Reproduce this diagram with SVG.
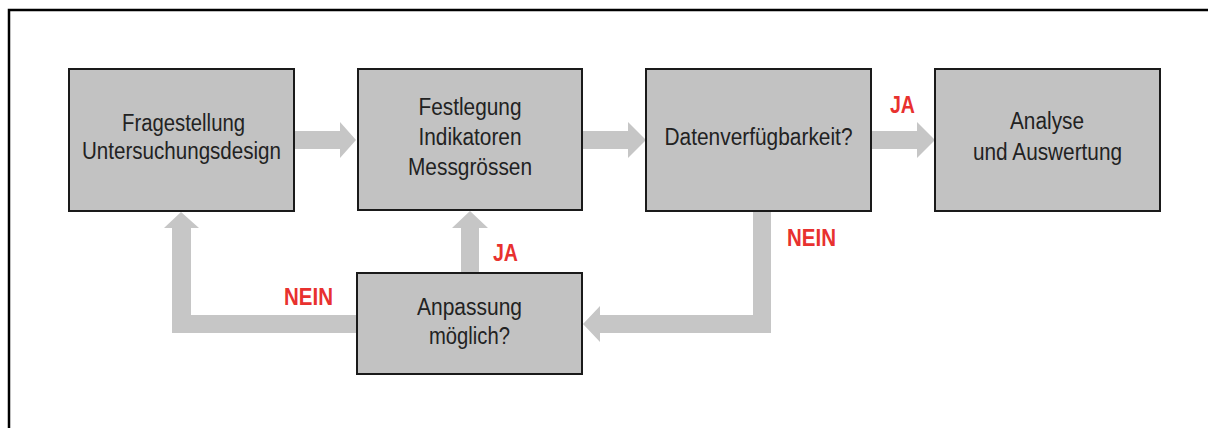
<svg xmlns="http://www.w3.org/2000/svg" width="1208" height="428" viewBox="0 0 1208 428">
  <style>
    .box { fill: #c2c2c2; stroke: #1a1a1a; stroke-width: 2; }
    .txt { font-family: "Liberation Sans", Arial, sans-serif; font-size: 23px; fill: #222; text-anchor: middle; }
    .lbl { font-family: "Liberation Sans", Arial, sans-serif; font-size: 23px; font-weight: bold; fill: #e8312f; text-anchor: middle; }
    .arr { fill: #c6c6c6; stroke: none; }
  </style>
  <rect x="0" y="0" width="1208" height="428" fill="#fff"/>
  <rect x="9" y="10" width="1220" height="440" fill="none" stroke="#000" stroke-width="2.5"/>

  <g id="connectors">
    <polygon class="arr" points="294,131 340,131 340,122 356,140 340,158 340,149 294,149"/>
    <polygon class="arr" points="582,131 628,131 628,122 646,140 628,158 628,149 582,149"/>
    <polygon class="arr" points="871,131 917,131 917,122 935,140 917,158 917,149 871,149"/>
    <polygon class="arr" points="753,211 771,211 771,333 600,333 600,342 583,324 600,306 600,315 753,315"/>
    <polygon class="arr" points="461,273 461,228 452,228 470,211 488,228 479,228 479,273"/>
    <polygon class="arr" points="357,315 191,315 191,228 199,228 181,212 164,228 172,228 172,333 357,333"/>
    <text class="lbl" x="902.5" y="113" textLength="25" lengthAdjust="spacingAndGlyphs">JA</text>
    <text class="lbl" x="811.5" y="246" textLength="49" lengthAdjust="spacingAndGlyphs">NEIN</text>
    <text class="lbl" x="505.5" y="261" textLength="25" lengthAdjust="spacingAndGlyphs">JA</text>
    <text class="lbl" x="308.5" y="305" textLength="49" lengthAdjust="spacingAndGlyphs">NEIN</text>
  </g>

  <g id="node-fragestellung">
    <rect class="box" x="69" y="69" width="225" height="142"/>
    <text class="txt" x="183.5" y="131" textLength="123" lengthAdjust="spacingAndGlyphs">Fragestellung</text>
    <text class="txt" x="181.5" y="159" textLength="199" lengthAdjust="spacingAndGlyphs">Untersuchungsdesign</text>
  </g>
  <g id="node-festlegung">
    <rect class="box" x="358" y="69" width="224" height="141"/>
    <text class="txt" x="470" y="115" textLength="103" lengthAdjust="spacingAndGlyphs">Festlegung</text>
    <text class="txt" x="470" y="145" textLength="103" lengthAdjust="spacingAndGlyphs">Indikatoren</text>
    <text class="txt" x="470" y="175" textLength="124" lengthAdjust="spacingAndGlyphs">Messgrössen</text>
  </g>
  <g id="node-daten">
    <rect class="box" x="646" y="69" width="225" height="142"/>
    <text class="txt" x="758.5" y="145" textLength="188" lengthAdjust="spacingAndGlyphs">Datenverfügbarkeit?</text>
  </g>
  <g id="node-analyse">
    <rect class="box" x="935" y="69" width="225" height="142"/>
    <text class="txt" x="1047" y="129" textLength="74" lengthAdjust="spacingAndGlyphs">Analyse</text>
    <text class="txt" x="1047.5" y="160" textLength="149" lengthAdjust="spacingAndGlyphs">und Auswertung</text>
  </g>
  <g id="node-anpassung">
    <rect class="box" x="357" y="273" width="225" height="101"/>
    <text class="txt" x="469.5" y="315" textLength="105" lengthAdjust="spacingAndGlyphs">Anpassung</text>
    <text class="txt" x="469.5" y="344" textLength="81" lengthAdjust="spacingAndGlyphs">möglich?</text>
  </g>
</svg>
